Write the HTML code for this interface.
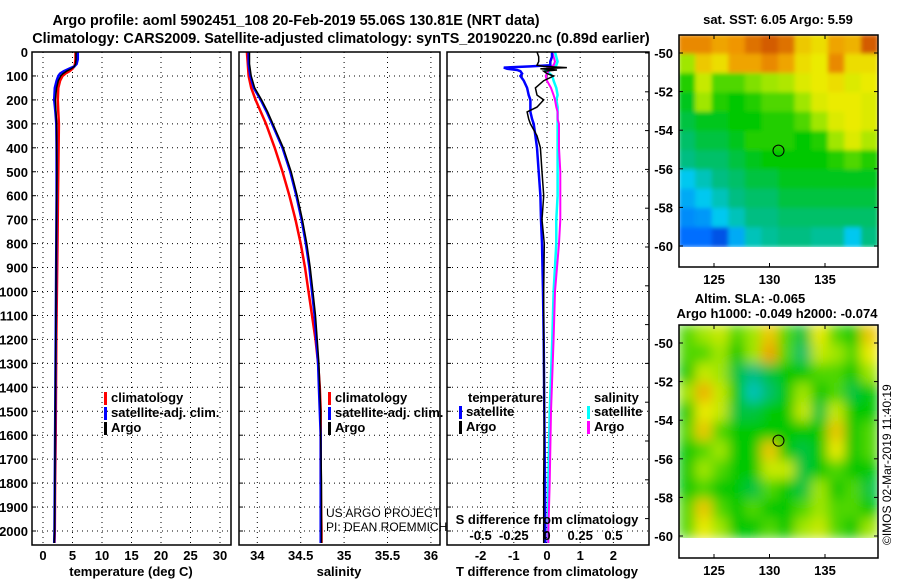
<!DOCTYPE html>
<html><head><meta charset="utf-8"><style>
body{margin:0;background:#fff;}
svg{display:block;font-family:"Liberation Sans",sans-serif;}
.b{font-weight:bold;font-size:14.4px;}
.t{font-weight:bold;font-size:13px;}
</style></head><body>
<svg id="c" width="900" height="580" viewBox="0 0 900 580" xmlns="http://www.w3.org/2000/svg">
<defs>
<filter id="bl1" x="0" y="0" width="1" height="1"><feGaussianBlur stdDeviation="2"/></filter>
<filter id="bl2" x="0" y="0" width="1" height="1"><feGaussianBlur stdDeviation="6"/></filter>
<clipPath id="cm1"><rect x="679" y="35" width="199" height="212"/></clipPath>
<clipPath id="cm2"><rect x="679" y="325" width="199" height="213"/></clipPath>
</defs>
<text class="b" x="296" y="25" text-anchor="middle">Argo profile: aoml 5902451_108 20-Feb-2019 55.06S 130.81E (NRT data)</text>
<text class="b" x="341" y="43" text-anchor="middle">Climatology: CARS2009. Satellite-adjusted climatology: synTS_20190220.nc (0.89d earlier)</text>
<text class="t" x="778" y="24" text-anchor="middle">sat. SST: 6.05 Argo: 5.59</text>
<text class="t" x="750" y="303" text-anchor="middle">Altim. SLA: -0.065</text>
<text class="t" x="777" y="318" text-anchor="middle">Argo h1000: -0.049 h2000: -0.074</text>
<text x="891" y="545" font-size="12" transform="rotate(-90 891 545)">©IMOS 02-Mar-2019 11:40:19</text>
<g id="g"></g>
</svg>
<script>
// ---- data ----
const depthTicks = [0,100,200,300,400,500,600,700,800,900,1000,1100,1200,1300,1400,1500,1600,1700,1800,1900,2000];
const depthT = [0,30,50,60,70,80,90,100,120,150,200,250,300,400,500,600,800,1000,1200,1400,1600,1800,2000,2050];
const tempClim = [5.5,5.5,5.4,5.3,5.0,4.5,3.8,3.3,2.9,2.6,2.5,2.6,2.7,2.65,2.6,2.55,2.45,2.35,2.25,2.2,2.15,2.05,2.0,1.95];
const tempSat = [5.9,5.9,5.7,5.3,4.4,3.5,2.9,2.6,2.3,2.0,1.9,2.1,2.25,2.3,2.3,2.3,2.25,2.2,2.15,2.1,2.05,2.0,1.95,1.9];
const tempArgo = [5.6,5.6,5.5,5.3,4.8,4.0,3.4,3.0,2.6,2.3,2.1,2.2,2.3,2.3,2.35,2.3,2.25,2.2,2.15,2.1,2.05,2.0,1.95,1.9];
const tempTicks = [0,5,10,15,20,25,30];
const depthS = [0,50,100,150,200,250,300,400,500,600,700,800,900,1000,1100,1200,1300,1400,1500,1600,1800,2000,2050];
const salClim = [33.88,33.89,33.9,33.93,33.98,34.04,34.1,34.2,34.29,34.37,34.44,34.5,34.55,34.59,34.63,34.67,34.7,34.72,34.73,34.73,34.73,34.74,34.74];
const salSat = [33.9,33.9,33.92,33.96,34.04,34.11,34.17,34.29,34.38,34.45,34.51,34.56,34.6,34.63,34.66,34.68,34.7,34.71,34.72,34.73,34.73,34.73,34.73];
const salArgo = [33.91,33.91,33.93,33.97,34.05,34.12,34.18,34.3,34.39,34.46,34.52,34.57,34.61,34.64,34.67,34.69,34.71,34.72,34.73,34.73,34.74,34.74,34.74];
const salTicks = [34,34.5,35,35.5,36];
const depthD = [0,20,40,55,60,65,70,75,80,90,100,120,150,180,200,230,250,280,300,350,400,500,600,700,800,1000,1200,1500,1800,2000,2050];
const dTsat = [0.15,0.15,0.1,0.1,-0.5,-1.3,-1.2,-0.9,-0.8,-0.75,-0.8,-0.7,-0.6,-0.55,-0.5,-0.5,-0.5,-0.45,-0.4,-0.35,-0.3,-0.25,-0.2,-0.18,-0.15,-0.12,-0.1,-0.08,-0.06,-0.05,-0.05];
const dTargo = [-0.3,-0.25,-0.25,-0.3,-0.1,0.6,-0.2,0.3,-0.1,0.0,0.2,-0.1,-0.35,-0.3,-0.1,-0.3,-0.6,-0.55,-0.5,-0.3,-0.2,-0.15,-0.1,-0.15,-0.08,-0.1,-0.1,-0.08,-0.1,-0.1,-0.1];
const dSsat = [0.06,0.07,0.08,0.07,0.05,0.02,0.0,-0.01,0.0,0.02,0.04,0.05,0.07,0.08,0.07,0.08,0.08,0.08,0.08,0.08,0.08,0.08,0.08,0.07,0.07,0.05,0.04,0.02,0.01,0.01,0.01];
const dSargo = [0.04,0.05,0.06,0.05,0.03,0.01,0.0,0.02,0.01,0.0,-0.01,0.0,0.03,0.05,0.06,0.07,0.08,0.08,0.09,0.09,0.09,0.1,0.1,0.1,0.09,0.06,0.05,0.03,0.02,0.01,0.01];
const dTTicks = [-2,-1,0,1,2];
const dSTicks = [-0.5,-0.25,0,0.25,0.5];
const dSLabels = ["-0.5","-0.25","0","0.25","0.5"];
const latTicks = [-50,-52,-54,-56,-58,-60];
const lonTicks = [125,130,135];
const sstGrid = [
[.85,.85,.8,.82,.9,.95,.9,.75,.72,.8,.78,.95],
[.6,.75,.72,.8,.8,.85,.8,.72,.7,.85,.72,.72],
[.52,.65,.55,.55,.58,.6,.62,.68,.7,.72,.68,.7],
[.48,.6,.52,.5,.52,.55,.55,.6,.68,.7,.7,.68],
[.45,.48,.48,.5,.5,.52,.52,.55,.6,.68,.7,.68],
[.42,.45,.45,.48,.52,.52,.52,.5,.52,.6,.68,.62],
[.4,.42,.42,.45,.48,.5,.5,.5,.5,.52,.55,.52],
[.3,.35,.4,.42,.45,.45,.48,.48,.48,.48,.48,.48],
[.25,.3,.35,.4,.42,.42,.45,.45,.45,.45,.45,.45],
[.2,.22,.3,.35,.4,.4,.42,.42,.42,.42,.42,.42],
[.15,.15,.1,.25,.35,.38,.4,.4,.38,.38,.3,.4]];
const slaGrid = [
[.55,.6,.65,.55,.6,.75,.55,.45,.7,.55,.5,.75],
[.55,.55,.6,.5,.6,.8,.55,.42,.65,.6,.55,.7],
[.5,.65,.6,.45,.4,.45,.5,.5,.55,.55,.5,.6],
[.6,.78,.65,.5,.35,.42,.5,.6,.5,.55,.45,.5],
[.5,.7,.65,.45,.45,.5,.5,.65,.45,.65,.5,.5],
[.55,.75,.55,.5,.5,.5,.5,.5,.5,.75,.5,.55],
[.5,.55,.6,.5,.5,.75,.5,.45,.5,.7,.5,.55],
[.5,.6,.55,.5,.5,.65,.65,.45,.5,.55,.5,.5],
[.5,.55,.5,.5,.45,.55,.5,.45,.6,.5,.55,.45],
[.55,.75,.55,.5,.55,.5,.5,.55,.6,.55,.55,.5],
[.55,.7,.6,.5,.5,.55,.5,.6,.65,.55,.5,.6]];
const floatLon = 130.81, floatLat = -55.06;

// ---- helpers ----
const NS="http://www.w3.org/2000/svg";
const G=document.getElementById('g');
function mk(tag,attrs,parent){const e=document.createElementNS(NS,tag);for(const k in attrs)e.setAttribute(k,attrs[k]);(parent||G).appendChild(e);return e;}
const yTop=52, yPer=0.2395, yBot=545;
const yD=d=>yTop+d*yPer;
function panel(x0,x1,name){
  const g=mk('g',{});
  
  
  return g;
}
function grid(g,xs,x0,x1){
  xs.forEach(x=>mk('line',{x1:x,x2:x,y1:yTop,y2:yBot,stroke:'#000','stroke-dasharray':'1,4'},g));
  depthTicks.slice(1).forEach(d=>mk('line',{x1:x0,x2:x1,y1:yD(d),y2:yD(d),stroke:'#000','stroke-dasharray':'1,4'},g));
}
function frame(g,x0,x1){
  mk('rect',{x:x0,y:yTop,width:x1-x0,height:yBot-yTop,fill:'none',stroke:'#000','stroke-width':1.5},g);
  depthTicks.forEach(d=>{mk('line',{x1:x0,x2:x0+4,y1:yD(d),y2:yD(d),stroke:'#000'},g);});
}
function line(g,xs,ds,xf,col,w,name){
  const p=xs.map((v,i)=>xf(v).toFixed(1)+','+yD(ds[i]).toFixed(1)).join(' ');
  const e=mk('polyline',{points:p,fill:'none',stroke:col,'stroke-width':w},g);
  
  
}
function txt(g,x,y,s,attrs){const e=mk('text',Object.assign({x:x,y:y},attrs||{}),g);e.textContent=s;return e;}
function legend(g,x,y,items){
  items.forEach((it,i)=>{
    const r=mk('rect',{x:x,y:y+i*15-10,width:3,height:13,fill:it[1]},g);
    
    
    const t=txt(g,x+7,y+i*15,it[0],{class:'t'});
    
    
  });
}

// ---- panel 1 temperature ----
{
  const x0=32,x1=231,xT=v=>43+v*5.9;
  const g=panel(x0,x1,'temperature-panel');
  grid(g,tempTicks.map(xT),x0,x1);
  line(g,tempClim,depthT,xT,'#f00',2.5,'temp-climatology-line');
  line(g,tempSat,depthT,xT,'#00f',2.5,'temp-satellite-line');
  line(g,tempArgo,depthT,xT,'#000',1.5,'temp-argo-line');
  frame(g,x0,x1);
  depthTicks.forEach(d=>{const t=txt(g,28,yD(d)+5,String(d),{class:'t','text-anchor':'end'});});
  tempTicks.forEach(v=>{const t=txt(g,xT(v),560,String(v),{class:'t','text-anchor':'middle'});});
  const a=txt(g,131,576,'temperature (deg C)',{class:'t','text-anchor':'middle'});
  
  legend(g,104,402,[['climatology','#f00','climatology'],['satellite-adj. clim.','#00f','satellite'],['Argo','#000','argo']]);
}
// ---- panel 2 salinity ----
{
  const x0=239,x1=440,xS=v=>257.3+(v-34)*86.8;
  const g=panel(x0,x1,'salinity-panel');
  grid(g,salTicks.map(xS),x0,x1);
  line(g,salClim,depthS,xS,'#f00',2.5,'sal-climatology-line');
  line(g,salSat,depthS,xS,'#00f',2.5,'sal-satellite-line');
  line(g,salArgo,depthS,xS,'#000',1.5,'sal-argo-line');
  frame(g,x0,x1);
  salTicks.forEach(v=>{const t=txt(g,xS(v),560,String(v),{class:'t','text-anchor':'middle'});});
  const a=txt(g,339,576,'salinity',{class:'t','text-anchor':'middle'});
  
  legend(g,328,402,[['climatology','#f00','climatology'],['satellite-adj. clim.','#00f','satellite'],['Argo','#000','argo']]);
  const c1=txt(g,326,517,'US ARGO PROJECT',{'font-size':12});
  const c2=txt(g,326,531,'PI: DEAN ROEMMICH',{'font-size':12});
}
// ---- panel 3 differences ----
{
  const x0=447,x1=649,xT=v=>547+v*33.2,xS=v=>547+v*132.8;
  const g=panel(x0,x1,'difference-panel');
  grid(g,dTTicks.map(xT),x0,x1);
  line(g,dSsat,depthD,xS,'#0ff',2.5,'sdiff-satellite-line');
  line(g,dSargo,depthD,xS,'#f0f',2,'sdiff-argo-line');
  line(g,dTsat,depthD,xT,'#00f',2.5,'tdiff-satellite-line');
  line(g,dTargo,depthD,xT,'#000',1.5,'tdiff-argo-line');
  frame(g,x0,x1);
  for(let y=53;y<yBot;y+=38.8) mk('line',{x1:x1-4,x2:x1,y1:y,y2:y,stroke:'#000'},g);
  dTTicks.forEach(v=>{const t=txt(g,xT(v),560,String(v),{class:'t','text-anchor':'middle'});});
  dSTicks.forEach((v,i)=>{const t=txt(g,xS(v),540,dSLabels[i],{class:'t','text-anchor':'middle'});});
  const a=txt(g,547,576,'T difference from climatology',{class:'t','text-anchor':'middle'});
  
  const b=txt(g,547,524,'S difference from climatology',{class:'t','text-anchor':'middle'});
  
  const h1=txt(g,468,402,'temperature',{class:'t'});
  const h2=txt(g,594,402,'salinity',{class:'t'});
  legend(g,459,416,[['satellite','#00f','t-satellite'],['Argo','#000','t-argo']]);
  legend(g,587,416,[['satellite','#0ff','s-satellite'],['Argo','#f0f','s-argo']]);
}
// ---- maps ----
const stops=[[0,[0,30,180]],[0.15,[0,110,255]],[0.3,[0,200,240]],[0.4,[0,190,130]],[0.5,[0,200,0]],[0.6,[160,230,0]],[0.7,[235,235,0]],[0.82,[240,150,0]],[1,[200,70,0]]];
function cmap(v){for(let i=1;i<stops.length;i++){if(v<=stops[i][0]){const a=stops[i-1],b=stops[i],t=(v-a[0])/(b[0]-a[0]);return 'rgb('+a[1].map((c,k)=>Math.round(c+(b[1][k]-c)*t)).join(',')+')';}}return 'rgb(200,70,0)';}
function map(gridV,y0,yData,yBottom,lat50,latPer,filt,clip,name){
  const x0=679,x1=878,lonX=l=>714+(l-125)*11.1,latY=l=>lat50+(-50-l)*latPer;
  const g=panel(x0,x1,name);
  const inner=mk('g',{'clip-path':'url(#'+clip+')'},g);
  const fg=mk('g',{filter:'url(#'+filt+')'},inner);
  const rows=gridV.length,cols=gridV[0].length,cw=(x1-x0)/cols,ch=(yData-y0)/rows;
  gridV.forEach((row,r)=>row.forEach((v,c)=>{
    const e=mk('rect',{x:x0+c*cw-0.5,y:y0+r*ch-0.5,width:cw+1,height:ch+1,fill:cmap(v)},fg);
    
    
  }));
  mk('rect',{x:x0,y:y0,width:x1-x0,height:yBottom-y0,fill:'none',stroke:'#000','stroke-width':1.5},g);
  latTicks.forEach(l=>{const y=latY(l);mk('line',{x1:x0,x2:x0+4,y1:y,y2:y,stroke:'#000'},g);mk('line',{x1:x1-4,x2:x1,y1:y,y2:y,stroke:'#000'},g);
    const t=txt(g,673,y+5,String(l),{class:'t','text-anchor':'end'});});
  lonTicks.forEach(l=>{const x=lonX(l);mk('line',{x1:x,x2:x,y1:y0,y2:y0+4,stroke:'#000'},g);mk('line',{x1:x,x2:x,y1:yBottom-4,y2:yBottom,stroke:'#000'},g);
    const t=txt(g,x,yBottom+17,String(l),{class:'t','text-anchor':'middle'});});
  const m=mk('circle',{cx:lonX(floatLon),cy:latY(floatLat),r:5.5,fill:'none',stroke:'#000','stroke-width':1},g);
  
  
}
map(sstGrid,35,247,267,53,19.3,'bl1','cm1','sst-map');
map(slaGrid,325,538,558,343,19.3,'bl2','cm2','sla-map');
</script>
</body></html>
